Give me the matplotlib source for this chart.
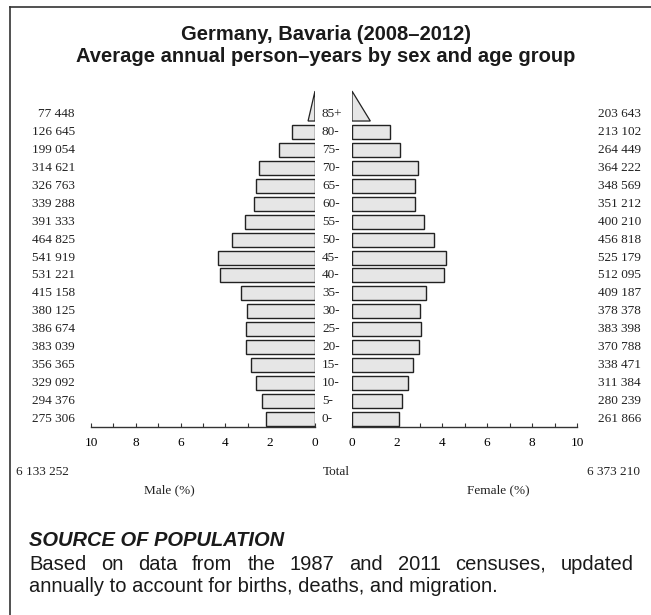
import matplotlib
matplotlib.use('Agg')
import matplotlib.pyplot as plt
import numpy as np
from matplotlib.transforms import blended_transform_factory
from matplotlib.patches import Polygon
from matplotlib.lines import Line2D

# ---------------- data ----------------
ages = ['0-', '5-', '10-', '15-', '20-', '25-', '30-', '35-', '40-', '45-',
        '50-', '55-', '60-', '65-', '70-', '75-', '80-', '85+']
male = [275306, 294376, 329092, 356365, 383039, 386674, 380125, 415158, 531221,
        541919, 464825, 391333, 339288, 326763, 314621, 199054, 126645, 77448]
female = [261866, 280239, 311384, 338471, 370788, 383398, 378378, 409187, 512095,
          525179, 456818, 400210, 351212, 348569, 364222, 264449, 213102, 203643]
xticks = [0, 2, 4, 6, 8, 10]

title_lines = ['Germany, Bavaria (2008\u20132012)',
               'Average annual person\u2013years by sex and age group']
source_head = 'SOURCE OF POPULATION'
source_line1 = 'Based on data from the 1987 and 2011 censuses, updated'
source_line2 = 'annually to account for births, deaths, and migration.'

# ---------------- derived ----------------
male_total = sum(male)
female_total = sum(female)
grand = male_total + female_total
male_pct = [v / grand * 100 for v in male]
female_pct = [v / grand * 100 for v in female]


def fmt(v):
    return f'{v:,}'.replace(',', ' ')


W, H = 651, 615
fig = plt.figure(figsize=(W / 100, H / 100), dpi=100)
fig.patch.set_facecolor('white')

SERIF = ['Liberation Serif', 'DejaVu Serif']
SANS = ['Liberation Sans', 'DejaVu Sans']

ax_bottom_px = 427.3
ax_top_px = 90.0
fb = 1 - ax_bottom_px / H
fh = (ax_bottom_px - ax_top_px) / H
axL = fig.add_axes([91 / W, fb, 224 / W, fh])
axR = fig.add_axes([352 / W, fb, 225 / W, fh])

row_px = 17.94
ylo = -(ax_bottom_px - 419) / row_px
yhi = (419 - ax_top_px) / row_px

bar_h = 0.78
face = '#e6e6e6'
edge = '#222222'
y = np.arange(len(ages))
n = len(ages) - 1  # last group drawn as triangle

for ax, pct, inv in ((axL, male_pct, True), (axR, female_pct, False)):
    ax.barh(y[:n], pct[:n], height=bar_h, color=face, edgecolor=edge,
            linewidth=1.0, zorder=2)
    base = y[n] - bar_h / 2
    tri = Polygon([(0, base), (pct[n] / 2, base), (0, base + 1.67)],
                  closed=True, facecolor=face, edgecolor=edge, linewidth=0.9,
                  zorder=2)
    ax.add_patch(tri)
    ax.set_xlim(10, 0) if inv else ax.set_xlim(0, 10)
    ax.set_ylim(ylo, yhi)
    for s in ('top', 'left', 'right'):
        ax.spines[s].set_visible(False)
    ax.spines['bottom'].set_linewidth(1.0)
    ax.spines['bottom'].set_color('#333333')
    ax.set_yticks([])
    ax.set_xticks(xticks)
    ax.set_xticks(np.arange(0, 11, 1), minor=True)
    ax.tick_params(axis='x', which='both', direction='in', length=3,
                   width=0.8, color='#333333', pad=7)
    ax.tick_params(axis='x', which='major', labelsize=9.5)
    for lab in ax.get_xticklabels():
        lab.set_family(SERIF)
    ax.patch.set_alpha(0)

trans = blended_transform_factory(fig.transFigure, axL.transData)
for i in range(len(ages)):
    axL.text(75 / W, y[i], fmt(male[i]), transform=trans, ha='right',
             va='center', fontsize=9.5, family=SERIF, color='#222222')
    axL.text(322 / W, y[i], ages[i], transform=trans, ha='left',
             va='center', fontsize=9.5, family=SERIF, color='#222222')
    axL.text(641 / W, y[i], fmt(female[i]), transform=trans, ha='right',
             va='center', fontsize=9.5, family=SERIF, color='#222222')

ty = 1 - 472 / H
fig.text(16 / W, ty, fmt(male_total), ha='left', va='center', fontsize=9.5,
         family=SERIF, color='#222222')
fig.text(323 / W, ty, 'Total', ha='left', va='center', fontsize=9.5,
         family=SERIF, color='#222222')
fig.text(640 / W, ty, fmt(female_total), ha='right', va='center',
         fontsize=9.5, family=SERIF, color='#222222')
ly = 1 - 490 / H
fig.text(169 / W, ly, 'Male (%)', ha='center', va='center', fontsize=9.5,
         family=SERIF, color='#222222')
fig.text(498 / W, ly, 'Female (%)', ha='center', va='center', fontsize=9.5,
         family=SERIF, color='#222222')

# title
fig.text(326 / W, 1 - 35 / H, title_lines[0], ha='center', va='center',
         fontsize=14.5, fontweight='bold', family=SANS, color='#1a1a1a')
fig.text(326 / W, 1 - 56.5 / H, title_lines[1], ha='center', va='center',
         fontsize=14.5, fontweight='bold', family=SANS, color='#1a1a1a')

# source
BODY = 14.5
fig.text(29 / W, 1 - 541 / H, source_head, ha='left', va='center',
         fontsize=BODY, fontweight='bold', fontstyle='italic', family=SANS,
         color='#1a1a1a')

# justified first line
renderer = fig.canvas.get_renderer()
words = source_line1.split(' ')
x0, x1 = 29, 634
wtexts = []
widths = []
for w in words:
    t = fig.text(0, 1 - 564 / H, w, ha='left', va='center', fontsize=BODY,
                 family=SANS, color='#1a1a1a')
    bb = t.get_window_extent(renderer=renderer)
    wtexts.append(t)
    widths.append(bb.width)
gap = (x1 - x0 - sum(widths)) / (len(words) - 1)
cx = x0
for t, wd in zip(wtexts, widths):
    t.set_x(cx / W)
    cx += wd + gap
fig.text(29 / W, 1 - 587 / H, source_line2, ha='left', va='center',
         fontsize=BODY, family=SANS, color='#1a1a1a')

# frame: top and left borders
fig.add_artist(Line2D([10 / W, 10 / W], [0, 1 - 7 / H],
                      transform=fig.transFigure, color='#333333', lw=1.2))
fig.add_artist(Line2D([10 / W, 1], [1 - 7 / H, 1 - 7 / H],
                      transform=fig.transFigure, color='#333333', lw=1.2))

fig.savefig('out.png', dpi=100, facecolor='white')
